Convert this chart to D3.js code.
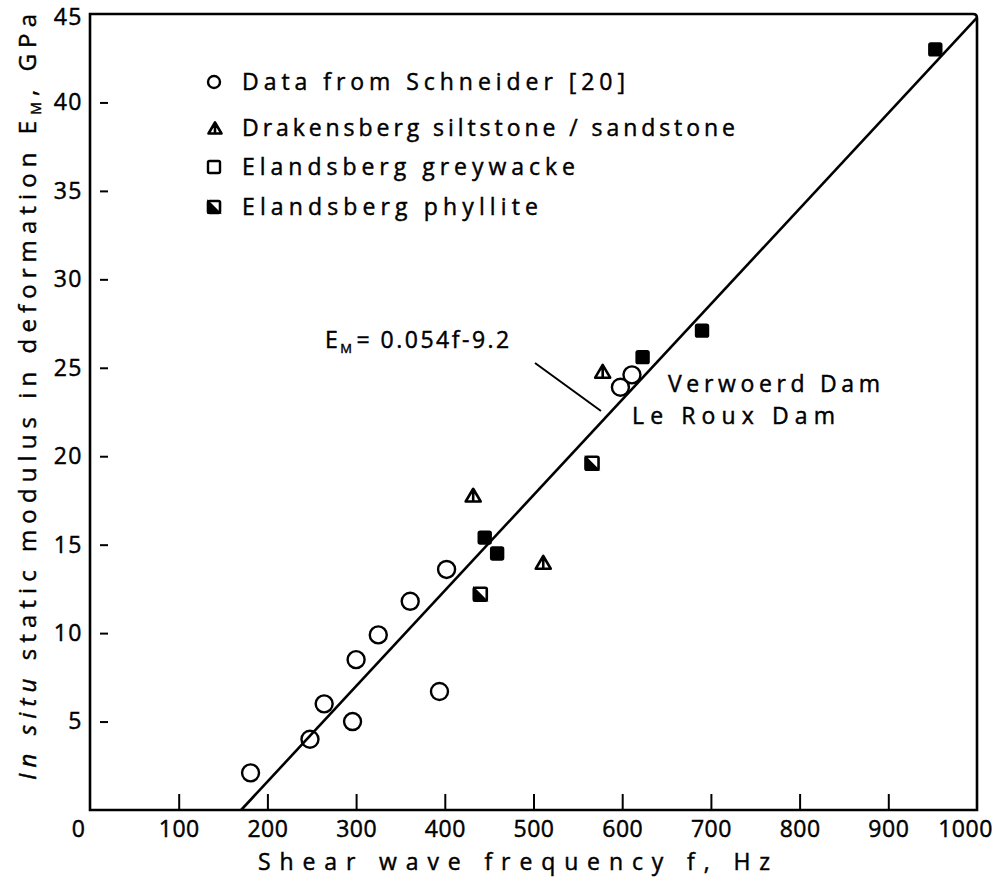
<!DOCTYPE html>
<html>
<head>
<meta charset="utf-8">
<script src="https://cdn.jsdelivr.net/npm/d3@7"></script>
<style>
  html, body { margin: 0; padding: 0; background: #fff; }
  svg { display: block; }
  text { font-family: "Open Sans", "DejaVu Sans", sans-serif; fill: #000; stroke: #000; stroke-width: 0.45; }
</style>
</head>
<body>
<svg id="chart" width="996" height="882"></svg>
<script>
// Shear wave frequency (Hz) vs in situ static modulus (GPa)
const schneiderF = [181, 248, 264, 296, 300, 325, 361, 402, 394, 598, 611];
const schneiderE = [2.1, 4.0, 6.0, 5.0, 8.5, 9.9, 11.8, 13.6, 6.7, 23.9, 24.6];
const drakensbergF = [432, 511, 578];
const drakensbergE = [17.8, 14.0, 24.8];
const greywackeF = [445, 459, 623, 690, 953];
const greywackeE = [15.4, 14.5, 25.6, 27.1, 43.0];
const phylliteF = [440, 566];
const phylliteE = [12.2, 19.6];

const xTicks = [0, 100, 200, 300, 400, 500, 600, 700, 800, 900, 1000];
const yTicks = [5, 10, 15, 20, 25, 30, 35, 40, 45];

// Regression E = 0.054 f - 9.2
const fitSlope = 0.054;
const fitIntercept = -9.2;

const legendLabels = [
  "Data from Schneider [20]",
  "Drakensberg siltstone / sandstone",
  "Elandsberg greywacke",
  "Elandsberg phyllite"
];

const svg = d3.select("#chart");
const plotL = 90, plotR = 977, plotT = 14, plotB = 810;

const x = d3.scaleLinear().domain([0, 1000]).range([plotL, plotR]);
const y = d3.scaleLinear().domain([0, 45]).range([plotB, plotT]);

// frame
svg.append("path")
  .attr("d", `M${plotL},${plotT} L${plotR - 4},${plotT} Q${plotR},${plotT} ${plotR},${plotT + 4} L${plotR},${plotB} L${plotL},${plotB} Z`)
  .attr("fill", "none").attr("stroke", "#000").attr("stroke-width", 2.6);

// x ticks pointing inward
const xAxisIn = d3.axisTop(x).tickValues(xTicks.slice(1, -1)).tickSize(16).tickFormat("");
svg.append("g").attr("transform", `translate(0,${plotB})`).call(xAxisIn)
  .call(g => g.select(".domain").remove())
  .call(g => g.selectAll("line").attr("stroke-width", 2));

// x tick labels
const xAxisLab = d3.axisBottom(x).tickValues(xTicks).tickSize(0).tickPadding(11)
  .tickFormat(d3.format("d"));
svg.append("g").attr("transform", `translate(0,${plotB})`).call(xAxisLab)
  .call(g => g.select(".domain").remove())
  .call(g => g.selectAll("text")
    .attr("font-size", 23).attr("letter-spacing", 0.5)
    .attr("font-family", "\"Open Sans\", sans-serif")
    .attr("dx", d => d === 0 ? -12 : d === 1000 ? -12 : 0));

// y ticks: short inward dashes
const yAxisIn = d3.axisRight(y).tickValues(yTicks.slice(0, -1)).tickSize(18).tickFormat("");
svg.append("g").attr("transform", `translate(${plotL},0)`).call(yAxisIn)
  .call(g => g.select(".domain").remove())
  .call(g => g.selectAll("line").attr("x1", 10).attr("stroke-width", 2));

// y tick labels
const yAxisLab = d3.axisLeft(y).tickValues(yTicks).tickSize(0).tickPadding(7);
svg.append("g").attr("transform", `translate(${plotL},0)`).call(yAxisLab)
  .call(g => g.select(".domain").remove())
  .call(g => g.selectAll("text")
    .attr("font-size", 23).attr("letter-spacing", 1.5)
    .attr("font-family", "\"Open Sans\", sans-serif")
    .attr("dy", d => d === 45 ? "0.45em" : "0.32em"));

// regression line
const fStart = -fitIntercept / fitSlope;
const fitLine = d3.line().x(d => x(d)).y(d => y(fitSlope * d + fitIntercept));
svg.append("path").datum([fStart, 1000]).attr("d", fitLine)
  .attr("fill", "none").attr("stroke", "#000").attr("stroke-width", 2.6);

// marker drawing helpers
function circleMark(g, cx, cy, r) {
  g.append("circle").attr("cx", cx).attr("cy", cy).attr("r", r)
    .attr("fill", "none").attr("stroke", "#000").attr("stroke-width", 2.4);
}
function triangleMark(g, cx, cy, s) {
  const h = s * 0.85;
  g.append("path")
    .attr("d", `M${cx},${cy - h / 2} L${cx + s / 2},${cy + h / 2} L${cx - s / 2},${cy + h / 2} Z M${cx},${cy - h / 2} L${cx},${cy + h / 2}`)
    .attr("fill", "none").attr("stroke", "#000").attr("stroke-width", 2.6).attr("stroke-linejoin", "round");
}
function squareMark(g, cx, cy, s, filled) {
  g.append("rect").attr("x", cx - s / 2).attr("y", cy - s / 2).attr("width", s).attr("height", s)
    .attr("rx", 1.5)
    .attr("fill", filled ? "#000" : "none").attr("stroke", "#000").attr("stroke-width", 2.4);
}
function phylliteMark(g, cx, cy, s) {
  const h = s / 2;
  g.append("rect").attr("x", cx - h).attr("y", cy - h).attr("width", s).attr("height", s)
    .attr("rx", 1.5).attr("fill", "none").attr("stroke", "#000").attr("stroke-width", 2.6);
  g.append("path").attr("d", `M${cx - h},${cy - h} L${cx + h},${cy + h} L${cx - h},${cy + h} Z`)
    .attr("fill", "#000").attr("stroke", "#000").attr("stroke-width", 1.5);
}

const marks = svg.append("g");
schneiderF.forEach((f, i) => circleMark(marks, x(f), y(schneiderE[i]), 8.5));
drakensbergF.forEach((f, i) => triangleMark(marks, x(f), y(drakensbergE[i]), 15));
greywackeF.forEach((f, i) => squareMark(marks, x(f), y(greywackeE[i]), 12, true));
phylliteF.forEach((f, i) => phylliteMark(marks, x(f), y(phylliteE[i]), 13));

// legend
const legendRowsY = [82, 128, 167, 207];
const legendWidths = [383, 493, 333, 296];
const lg = svg.append("g");
circleMark(lg, 214, legendRowsY[0], 6);
triangleMark(lg, 215, legendRowsY[1], 13);
squareMark(lg, 214, legendRowsY[2], 12, false);
phylliteMark(lg, 214, legendRowsY[3], 12);
legendLabels.forEach((t, i) => {
  lg.append("text").attr("x", 242).attr("y", legendRowsY[i] + 8)
    .attr("font-size", 23)
    .attr("textLength", legendWidths[i]).attr("lengthAdjust", "spacing")
    .text(t);
});

// regression annotation
const ann = svg.append("g");
const eq = ann.append("text").attr("x", 325).attr("y", 348).attr("font-size", 23)
  .attr("letter-spacing", 2.5);
eq.append("tspan").text("E");
eq.append("tspan").attr("font-size", 13).attr("dy", 5).attr("dx", 0).text("M");
eq.append("tspan").attr("dy", -5).attr("dx", 2).text("= 0.054f-9.2");
ann.append("line").attr("x1", 535).attr("y1", 363).attr("x2", 601).attr("y2", 411)
  .attr("stroke", "#000").attr("stroke-width", 2);

ann.append("text").attr("x", 668).attr("y", 392).attr("font-size", 23)
  .attr("textLength", 212).attr("lengthAdjust", "spacing").text("Verwoerd Dam");
ann.append("text").attr("x", 632).attr("y", 424).attr("font-size", 23)
  .attr("textLength", 203).attr("lengthAdjust", "spacing").text("Le Roux Dam");

// axis titles
svg.append("text").attr("x", 258).attr("y", 870).attr("font-size", 23)
  .attr("textLength", 512).attr("lengthAdjust", "spacing")
  .text("Shear wave frequency f, Hz");

const yt = svg.append("text")
  .attr("transform", "translate(36,780) rotate(-90)")
  .attr("font-size", 24)
  .attr("textLength", 766).attr("lengthAdjust", "spacing");
yt.append("tspan").attr("font-style", "italic").text("In situ");
yt.append("tspan").text(" static modulus in deformation E");
yt.append("tspan").attr("font-size", 14).attr("dy", 5).text("M");
yt.append("tspan").attr("dy", -5).text(", GPa");
</script>
</body>
</html>
